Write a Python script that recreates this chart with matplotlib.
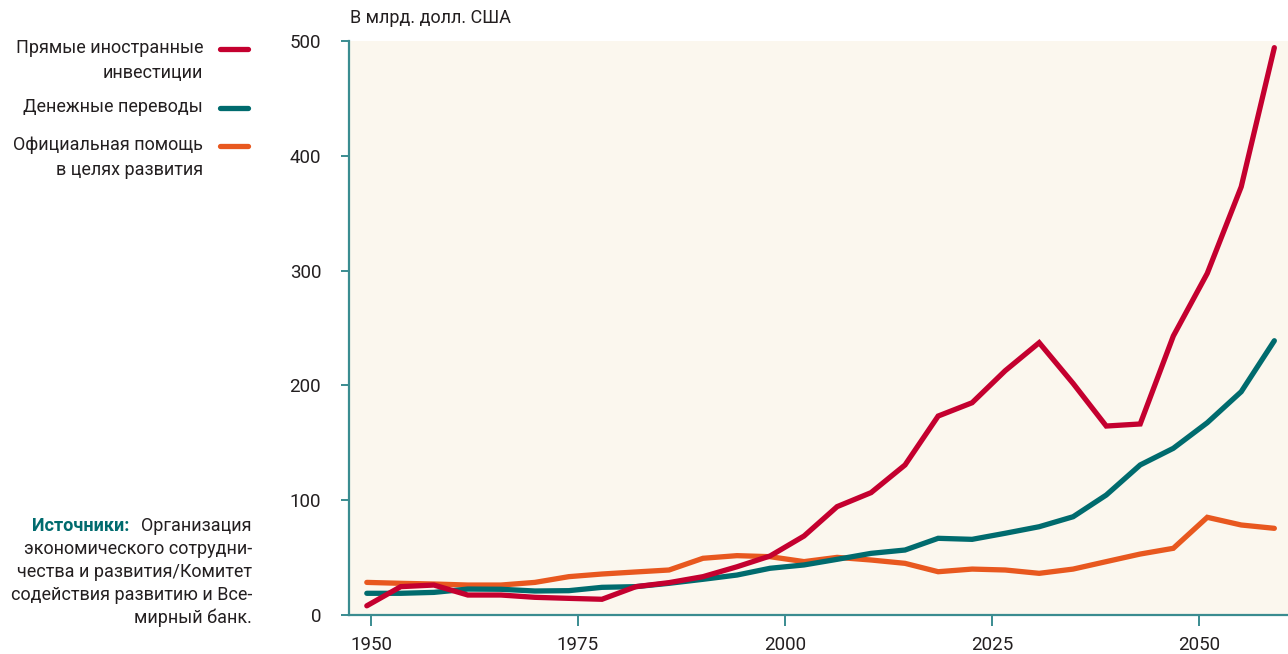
import matplotlib
matplotlib.use('Agg')
import matplotlib.pyplot as plt

plt.rcParams.update({
    'font.family': ['Roboto', 'DejaVu Sans'],
    'font.size': 13,
})

# positions of the yearly points on the time axis, as drawn
years = [1949.5, 1953.6, 1957.6, 1961.7, 1965.7, 1969.8, 1973.9, 1977.9,
         1982.0, 1986.0, 1990.1, 1994.2, 1998.2, 2002.3, 2006.3, 2010.4,
         2014.5, 2018.5, 2022.6, 2026.6, 2030.7, 2034.8, 2038.8, 2042.9,
         2046.9, 2051.0, 2055.1, 2059.1]

fdi = [8, 24.7, 26.1, 17.4, 17.4, 15.4, 14.5, 13.7, 24.7, 28.2, 33.4, 42,
       51.4, 68.8, 94.4, 106.6, 130.7, 173.3, 184.9, 212.8, 237.2, 201.7,
       164.6, 166.4, 243, 297.6, 373, 494.2]
remit = [18.9, 18.9, 19.7, 22.6, 22.4, 20.9, 21.2, 24.1, 24.7, 27.6, 31.1,
         34.8, 40.7, 43.6, 48.5, 53.7, 56.6, 66.8, 65.9, 71.2, 76.9, 85.6,
         104.5, 130.7, 145.2, 167.5, 194.5, 238.9]
oda = [28.4, 27.6, 27.0, 26.1, 26.1, 28.4, 33.4, 35.7, 37.5, 39.2, 49.4,
       51.7, 50.8, 46.5, 50.2, 47.9, 45.0, 37.7, 40.0, 39.2, 36.3, 40.0,
       46.5, 53.1, 58.1, 85.1, 78.4, 75.5]

series_labels = ['Прямые иностранные\nинвестиции',
                 'Денежные переводы',
                 'Официальная помощь\nв целях развития']
xticks = [1950, 1975, 2000, 2025, 2050]
yticks = [0, 100, 200, 300, 400, 500]

RED = '#C4002F'
TEAL = '#006B6E'
ORANGE = '#E8581F'
AXIS = '#3A8C90'
TXT = '#231F20'
BG = '#FBF7EE'

W, H = 1288, 654
fig = plt.figure(figsize=(W / 100, H / 100), dpi=100)
ax = fig.add_axes([349 / W, 1 - 615 / H, (W - 349) / W, (615 - 41) / H])
ax.set_facecolor(BG)

for vals, col in [(oda, ORANGE), (remit, TEAL), (fdi, RED)]:
    ax.plot(years, vals, color=col, lw=3.8, solid_capstyle='round',
            solid_joinstyle='miter')

ax.set_xlim(1947.35, 2060.75)
ax.set_ylim(0, 500)
ax.set_xticks(xticks)
ax.set_yticks(yticks)
for s in ['top', 'right']:
    ax.spines[s].set_visible(False)
for s in ['left', 'bottom']:
    ax.spines[s].set_color(AXIS)
    ax.spines[s].set_linewidth(1.6)
ax.tick_params(axis='y', length=6, width=1.4, color=AXIS, labelcolor=TXT,
               pad=14, labelsize=13.5)
ax.tick_params(axis='x', length=8, width=1.4, color=AXIS, labelcolor=TXT,
               pad=7, labelsize=13.5)

fig.text(350 / W, 1 - 18 / H, 'В млрд. долл. США', ha='left', va='center',
         color=TXT, fontsize=13)

# legend on the left
leg_y = [49, 108, 146]
for lab, col, yy in zip(series_labels, [RED, TEAL, ORANGE], leg_y):
    fig.text(203 / W, 1 - (yy - 10) / H, lab, ha='right', va='top',
             color=TXT, fontsize=13, linespacing=1.5)
    fig.add_artist(plt.Line2D([220 / W, 248 / W], [1 - yy / H, 1 - yy / H],
                              color=col, lw=3.8, solid_capstyle='round'))

# sources
fig.text(129 / W, 1 - 526 / H, 'Источники:', ha='right', va='center',
         color=TEAL, fontsize=13, fontweight='bold')
src = ['Организация', 'экономического сотрудни-', 'чества и развития/Комитет',
       'содействия развитию и Все-', 'мирный банк.']
for i, line in enumerate(src):
    fig.text(252 / W, 1 - (526 + 23 * i) / H, line, ha='right', va='center',
             color=TXT, fontsize=13)

fig.savefig('out.png', dpi=100, facecolor='white')
